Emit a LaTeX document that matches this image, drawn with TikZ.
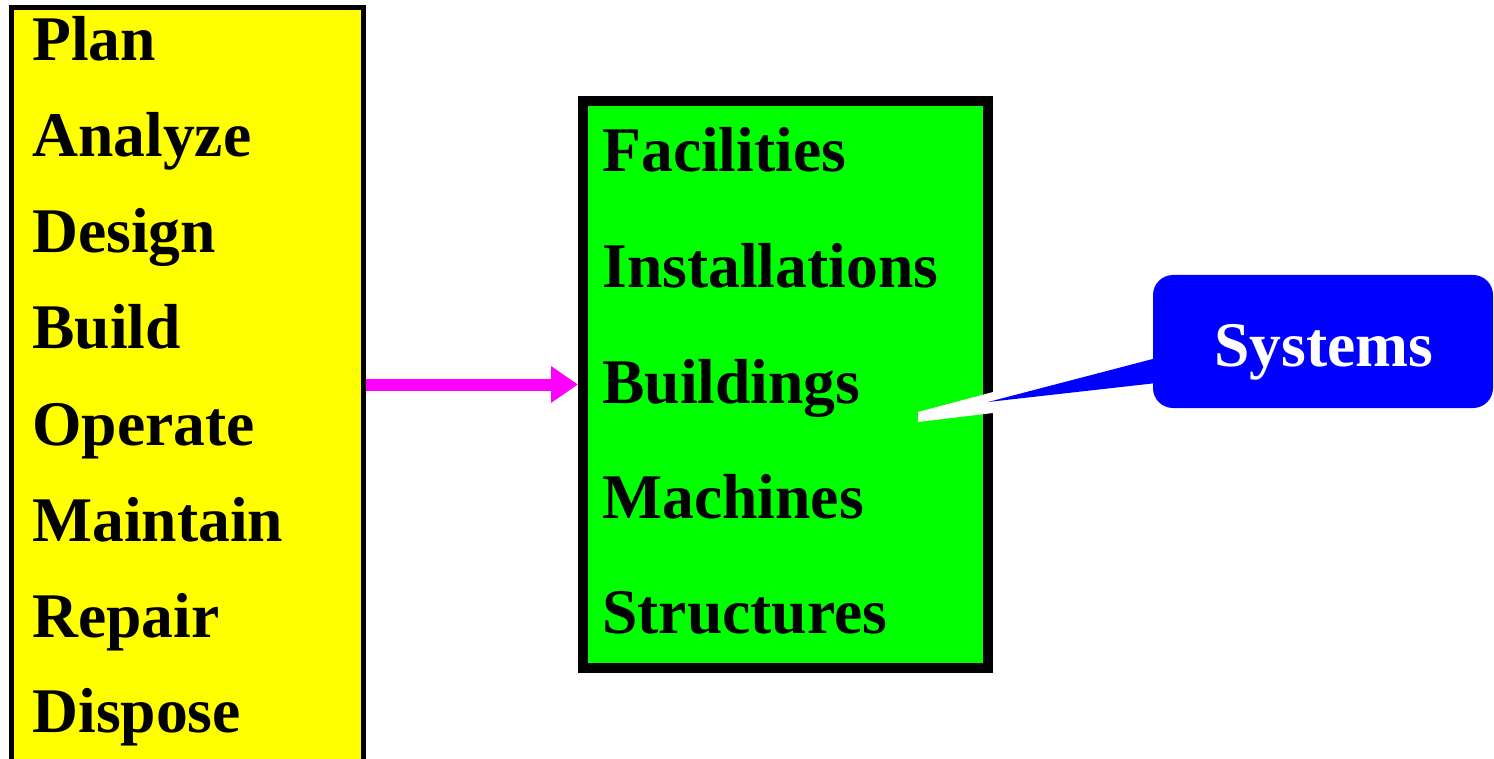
\documentclass[tikz,border=0pt]{standalone}
\usepackage{fontspec}
\setmainfont{Liberation Serif}
\usetikzlibrary{arrows.meta}
\definecolor{cyellow}{RGB}{255,255,0}
\definecolor{cgreen}{RGB}{0,255,0}
\definecolor{cmag}{RGB}{255,0,255}
\definecolor{cblue}{RGB}{0,0,255}
\tikzset{
  lbl/.style={anchor=base west, inner sep=0pt, font=\fontsize{31.8pt}{38pt}\selectfont\bfseries},
  yellowbox/.style={draw=black, line width=2.5pt, fill=cyellow, inner sep=0pt, minimum width=176pt, minimum height=396.25pt},
  greenbox/.style={draw=black, line width=5pt, fill=cgreen, inner sep=0pt, minimum width=202.5pt, minimum height=283.5pt},
  bluebox/.style={fill=cblue, rounded corners=10pt, inner sep=0pt, minimum width=170pt, minimum height=66.5pt},
  flow/.style={draw=cmag, line width=6pt, -{Triangle[length=13.5pt,width=17.5pt]}, shorten >=0pt},
}
\begin{document}
\begin{tikzpicture}[x=0.5pt,y=-0.5pt]
\useasboundingbox (0,0) rectangle (1494,759);
\clip (0,0) rectangle (1494,759);
% yellow box (extends below the page)
\node[yellowbox] (life) at (187.5,403.75) {};
\node[lbl] (t1) at (32,61) {Plan};
\node[lbl] (t2) at (32,157) {Analyze};
\node[lbl] (t3) at (32,253) {Design};
\node[lbl] (t4) at (32,349) {Build};
\node[lbl] (t5) at (32,445) {Operate};
\node[lbl] (t6) at (32,541) {Maintain};
\node[lbl] (t7) at (32,637) {Repair};
\node[lbl] (t8) at (32,732) {Dispose};
% green box
\node[greenbox] (assets) at (785.5,384.5) {};
\node[lbl] (g1) at (602,172) {Facilities};
\node[lbl] (g2) at (602,288) {Installations};
\node[lbl] (g3) at (602,403) {Buildings};
\node[lbl] (g4) at (602,518) {Machines};
\node[lbl] (g5) at (602,633) {Structures};
% arrow
\draw[flow] (life.east |- assets.west) -- (assets.west);
% callout pointer
\fill[white] (918,412) -- (993,392) -- (993,413) -- (918,422) -- cycle;
\node[bluebox] (sys) at (1323,341.5) {};
\fill[cblue] (sys.west |- 0,358) ++(4,0) -- (988,402) -- ([xshift=2pt]sys.west |- 0,383) -- cycle;
\node[lbl, anchor=base, text=white] (st) at (1324,366) {Systems};
\end{tikzpicture}
\end{document}
